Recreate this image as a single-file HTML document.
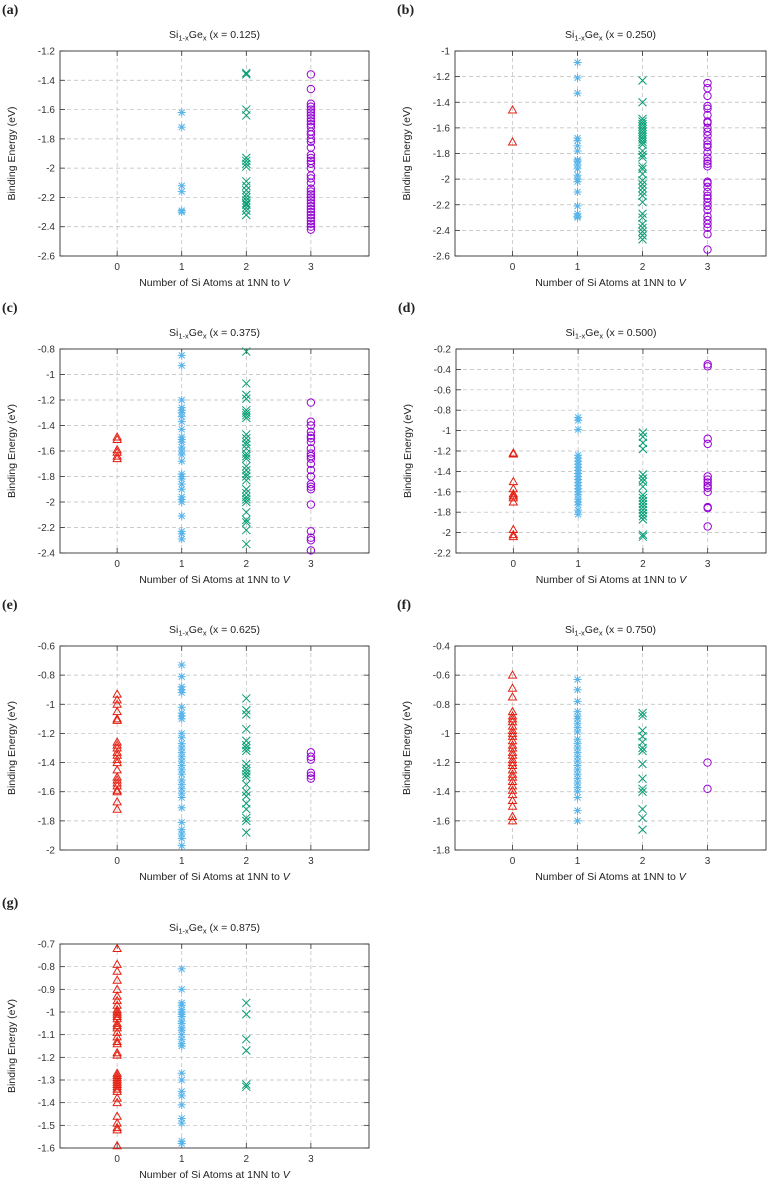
<!DOCTYPE html>
<html><head><meta charset="utf-8">
<style>
html,body{margin:0;padding:0;background:#fff;}
svg{display:block;font-family:"Liberation Sans",sans-serif;}
</style></head>
<body>
<svg id="fig" width="768" height="1181" viewBox="0 0 768 1181" xmlns="http://www.w3.org/2000/svg"></svg>
<script>
// Categories (number of Si atoms at 1NN to V)
const categories = [0, 1, 2, 3];
const xTickLabels = ["0", "1", "2", "3"];
const panelLetters = ["(a)", "(b)", "(c)", "(d)", "(e)", "(f)", "(g)"];
const compositions = ["0.125", "0.250", "0.375", "0.500", "0.625", "0.750", "0.875"];
// y tick labels per panel
const ticksA = [-2.6,-2.4,-2.2,-2,-1.8,-1.6,-1.4,-1.2];
const ticksB = [-2.6,-2.4,-2.2,-2,-1.8,-1.6,-1.4,-1.2,-1];
const ticksC = [-2.4,-2.2,-2,-1.8,-1.6,-1.4,-1.2,-1,-0.8];
const ticksD = [-2.2,-2,-1.8,-1.6,-1.4,-1.2,-1,-0.8,-0.6,-0.4,-0.2];
const ticksE = [-2,-1.8,-1.6,-1.4,-1.2,-1,-0.8,-0.6];
const ticksF = [-1.8,-1.6,-1.4,-1.2,-1,-0.8,-0.6,-0.4];
const ticksG = [-1.6,-1.5,-1.4,-1.3,-1.2,-1.1,-1,-0.9,-0.8,-0.7];

// Series values: n=0 (triangles), n=1 (asterisks), n=2 (crosses), n=3 (circles)
const a0 = [];
const a1 = [-1.62,-1.72,-2.12,-2.16,-2.29,-2.30];
const a2 = [-1.36,-1.35,-1.60,-1.64,-1.93,-1.95,-1.97,-1.99,-2.09,-2.12,-2.15,-2.18,-2.2,-2.22,-2.24,-2.25,-2.27,-2.29,-2.32];
const a3 = [-1.36,-1.46,-1.56,-1.58,-1.60,-1.62,-1.64,-1.66,-1.68,-1.70,-1.72,-1.75,-1.77,-1.80,-1.82,-1.86,-1.91,-1.93,-1.95,-1.97,-2.0,-2.05,-2.07,-2.10,-2.14,-2.16,-2.18,-2.2,-2.22,-2.24,-2.26,-2.28,-2.3,-2.32,-2.34,-2.36,-2.38,-2.40,-2.42];
const b0 = [-1.46,-1.71];
const b1 = [-1.09,-1.21,-1.33,-1.68,-1.70,-1.74,-1.78,-1.85,-1.86,-1.89,-1.92,-1.97,-2.0,-2.02,-2.1,-2.21,-2.27,-2.29,-2.3];
const b2 = [-1.23,-1.40,-1.53,-1.55,-1.57,-1.59,-1.61,-1.63,-1.65,-1.67,-1.69,-1.71,-1.73,-1.78,-1.81,-1.83,-1.90,-1.92,-1.96,-2.01,-2.04,-2.07,-2.1,-2.13,-2.18,-2.27,-2.30,-2.35,-2.38,-2.41,-2.44,-2.47];
const b3 = [-1.25,-1.29,-1.35,-1.43,-1.45,-1.50,-1.55,-1.56,-1.60,-1.63,-1.66,-1.70,-1.73,-1.75,-1.79,-1.83,-1.86,-1.88,-1.9,-2.02,-2.03,-2.06,-2.1,-2.13,-2.15,-2.18,-2.21,-2.24,-2.29,-2.32,-2.35,-2.38,-2.43,-2.55];
const c0 = [-1.49,-1.51,-1.59,-1.61,-1.64,-1.66];
const c1 = [-0.85,-0.93,-1.2,-1.26,-1.28,-1.3,-1.33,-1.37,-1.43,-1.49,-1.51,-1.53,-1.57,-1.6,-1.63,-1.68,-1.78,-1.8,-1.82,-1.86,-1.9,-1.96,-1.98,-2.0,-2.11,-2.23,-2.25,-2.29];
const c2 = [-0.82,-1.07,-1.16,-1.19,-1.28,-1.3,-1.32,-1.34,-1.47,-1.5,-1.53,-1.55,-1.58,-1.62,-1.64,-1.66,-1.72,-1.75,-1.78,-1.8,-1.83,-1.9,-1.93,-1.96,-1.98,-2.0,-2.08,-2.14,-2.16,-2.22,-2.33];
const c3 = [-1.22,-1.37,-1.4,-1.45,-1.48,-1.50,-1.53,-1.58,-1.62,-1.64,-1.66,-1.7,-1.75,-1.80,-1.86,-1.88,-1.9,-2.02,-2.23,-2.28,-2.3,-2.38];
const d0 = [-1.22,-1.23,-1.5,-1.57,-1.62,-1.64,-1.66,-1.7,-1.97,-2.02,-2.04];
const d1 = [-0.87,-0.9,-0.99,-1.24,-1.27,-1.3,-1.33,-1.36,-1.39,-1.42,-1.45,-1.48,-1.51,-1.54,-1.57,-1.6,-1.63,-1.67,-1.7,-1.73,-1.78,-1.82];
const d2 = [-1.02,-1.06,-1.12,-1.18,-1.43,-1.47,-1.5,-1.55,-1.63,-1.66,-1.69,-1.72,-1.75,-1.78,-1.81,-1.84,-1.87,-2.02,-2.04];
const d3 = [-0.35,-0.37,-1.08,-1.13,-1.45,-1.48,-1.51,-1.54,-1.56,-1.6,-1.75,-1.76,-1.94];
const e0 = [-0.93,-0.97,-1.0,-1.05,-1.10,-1.11,-1.26,-1.28,-1.3,-1.33,-1.35,-1.38,-1.4,-1.45,-1.5,-1.52,-1.54,-1.56,-1.59,-1.6,-1.67,-1.72];
const e1 = [-0.73,-0.81,-0.88,-0.9,-0.92,-1.02,-1.06,-1.08,-1.1,-1.2,-1.23,-1.27,-1.3,-1.33,-1.36,-1.39,-1.42,-1.45,-1.48,-1.52,-1.55,-1.58,-1.61,-1.64,-1.71,-1.81,-1.86,-1.89,-1.92,-1.97];
const e2 = [-0.96,-1.04,-1.07,-1.17,-1.25,-1.28,-1.3,-1.32,-1.41,-1.44,-1.46,-1.48,-1.5,-1.55,-1.6,-1.63,-1.68,-1.72,-1.78,-1.8,-1.88];
const e3 = [-1.33,-1.36,-1.38,-1.47,-1.49,-1.51];
const f0 = [-0.6,-0.69,-0.75,-0.85,-0.88,-0.9,-0.92,-0.95,-0.98,-1.0,-1.02,-1.05,-1.08,-1.1,-1.13,-1.15,-1.18,-1.2,-1.22,-1.25,-1.28,-1.3,-1.33,-1.36,-1.39,-1.42,-1.46,-1.5,-1.57,-1.6];
const f1 = [-0.63,-0.7,-0.78,-0.85,-0.88,-0.9,-0.93,-0.96,-0.99,-1.04,-1.07,-1.1,-1.13,-1.16,-1.19,-1.22,-1.25,-1.28,-1.31,-1.34,-1.37,-1.4,-1.44,-1.53,-1.6];
const f2 = [-0.86,-0.88,-0.98,-1.02,-1.06,-1.1,-1.12,-1.21,-1.31,-1.38,-1.4,-1.52,-1.58,-1.66];
const f3 = [-1.2,-1.38];
const g0 = [-0.72,-0.79,-0.82,-0.86,-0.9,-0.93,-0.95,-0.97,-0.99,-1.0,-1.01,-1.02,-1.03,-1.05,-1.06,-1.07,-1.09,-1.11,-1.13,-1.14,-1.18,-1.19,-1.27,-1.28,-1.29,-1.3,-1.31,-1.32,-1.33,-1.34,-1.35,-1.38,-1.4,-1.46,-1.49,-1.51,-1.52,-1.59];
const g1 = [-0.81,-0.9,-0.96,-0.97,-0.99,-1.0,-1.01,-1.02,-1.04,-1.05,-1.07,-1.08,-1.1,-1.12,-1.14,-1.15,-1.27,-1.3,-1.35,-1.37,-1.41,-1.47,-1.49,-1.57,-1.58];
const g2 = [-0.96,-1.01,-1.12,-1.17,-1.32,-1.33];
const g3 = [];

const NS = "http://www.w3.org/2000/svg";
const svg = document.getElementById('fig');
const COLORS = ["#e51e10", "#56b4e9", "#009e73", "#9400d3"];
const MARKS = ["triangle", "asterisk", "cross", "circle"];

function mk(tag, attrs, parent) {
  const e = document.createElementNS(NS, tag);
  for (const k in attrs) e.setAttribute(k, attrs[k]);
  parent.appendChild(e);
  return e;
}
function fmt(v) { return String(parseFloat(v.toFixed(2))); }

const panels = [
  {L:60, R:369, T:51, B:256, ticks:ticksA, series:[a0,a1,a2,a3]},
  {L:455, R:766, T:51, B:256, ticks:ticksB, series:[b0,b1,b2,b3]},
  {L:60, R:369, T:349, B:553, ticks:ticksC, series:[c0,c1,c2,c3]},
  {L:456, R:766, T:349, B:553, ticks:ticksD, series:[d0,d1,d2,d3]},
  {L:60, R:369, T:646, B:850, ticks:ticksE, series:[e0,e1,e2,e3]},
  {L:455, R:766, T:646, B:850, ticks:ticksF, series:[f0,f1,f2,f3]},
  {L:60, R:369, T:944, B:1148, ticks:ticksG, series:[g0,g1,g2,g3]}
];

panels.forEach((p, i) => {
  const g = mk('g', {}, svg);
  
  
  const xMin = -0.885, xMax = 3.9;
  const yMin = p.ticks[0], yMax = p.ticks[p.ticks.length - 1];
  const xs = v => p.L + (v - xMin) / (xMax - xMin) * (p.R - p.L);
  const ys = v => p.B - (v - yMin) / (yMax - yMin) * (p.B - p.T);
  const cx = (p.L + p.R) / 2;

  const lab = mk('text', {x: p.L - 60 + 2, y: p.T - 37, 'font-family': '"Liberation Serif",serif', 'font-weight': 'bold', 'font-size': 14, fill: '#222'}, g);
  lab.textContent = panelLetters[i];
  
  

  const t = mk('text', {x: cx, y: p.T - 13, 'text-anchor': 'middle', 'font-size': 10.5, fill: '#222'}, g);
  
  
  t.innerHTML = 'Si<tspan font-size="7.5" dy="2.5">1-x</tspan><tspan dy="-2.5">Ge</tspan><tspan font-size="7.5" dy="2.5">x</tspan><tspan dy="-2.5"> (x = ' + compositions[i] + ')</tspan>';

  // grid
  p.ticks.forEach(v => {
    const y = ys(v);
    if (v !== yMin && v !== yMax) {
      const gl = mk('line', {x1: p.L, x2: p.R, y1: y, y2: y, stroke: '#bbb', 'stroke-width': 0.7, 'stroke-dasharray': '4,3'}, g);
      
      
    }
    mk('line', {x1: p.L, x2: p.L + 5, y1: y, y2: y, stroke: '#333', 'stroke-width': 0.8}, g);
    mk('line', {x1: p.R - 5, x2: p.R, y1: y, y2: y, stroke: '#333', 'stroke-width': 0.8}, g);
    const tl = mk('text', {x: p.L - 5, y: y + 3.5, 'text-anchor': 'end', 'font-size': 10, fill: '#333'}, g);
    tl.textContent = fmt(v);
    
    
  });
  categories.forEach((c, k) => {
    const x = xs(c);
    const gl = mk('line', {x1: x, x2: x, y1: p.T, y2: p.B, stroke: '#bbb', 'stroke-width': 0.7, 'stroke-dasharray': '4,3'}, g);
    
    
    mk('line', {x1: x, x2: x, y1: p.B - 5, y2: p.B, stroke: '#333', 'stroke-width': 0.8}, g);
    mk('line', {x1: x, x2: x, y1: p.T, y2: p.T + 5, stroke: '#333', 'stroke-width': 0.8}, g);
    const tl = mk('text', {x: x, y: p.B + 14, 'text-anchor': 'middle', 'font-size': 10, fill: '#333'}, g);
    tl.textContent = xTickLabels[k];
    
    
  });
  const fr = mk('rect', {x: p.L, y: p.T, width: p.R - p.L, height: p.B - p.T, fill: 'none', stroke: '#333', 'stroke-width': 0.9}, g);
  
  

  const xt = mk('text', {x: cx, y: p.B + 30, 'text-anchor': 'middle', 'font-size': 10.5, fill: '#222'}, g);
  xt.innerHTML = 'Number of Si Atoms at 1NN to <tspan font-style="italic">V</tspan>';
  
  
  const ytx = p.L - 45, yty = (p.T + p.B) / 2;
  const yt = mk('text', {x: ytx, y: yty, 'text-anchor': 'middle', 'font-size': 10.5, fill: '#222', transform: 'rotate(-90 ' + ytx + ' ' + yty + ')'}, g);
  yt.textContent = 'Binding Energy (eV)';
  
  

  // marks
  p.series.forEach((vals, s) => {
    const col = COLORS[s];
    const x = xs(categories[s]);
    vals.forEach(v => {
      const y = ys(v);
      let m;
      if (MARKS[s] === 'triangle') {
        m = mk('polygon', {points: `${x},${y-4} ${x-4},${y+3} ${x+4},${y+3}`, fill: 'none', stroke: col, 'stroke-width': 1}, g);
      } else if (MARKS[s] === 'asterisk') {
        m = mk('path', {d: `M${x-4},${y}H${x+4}M${x},${y-4}V${y+4}M${x-3},${y-3}L${x+3},${y+3}M${x-3},${y+3}L${x+3},${y-3}`, stroke: col, 'stroke-width': 1, fill: 'none'}, g);
      } else if (MARKS[s] === 'cross') {
        m = mk('path', {d: `M${x-4},${y-4}L${x+4},${y+4}M${x-4},${y+4}L${x+4},${y-4}`, stroke: col, 'stroke-width': 1, fill: 'none'}, g);
      } else {
        m = mk('circle', {cx: x, cy: y, r: 3.7, fill: 'none', stroke: col, 'stroke-width': 1}, g);
      }
      
      
    });
  });
});
</script>
</body></html>
